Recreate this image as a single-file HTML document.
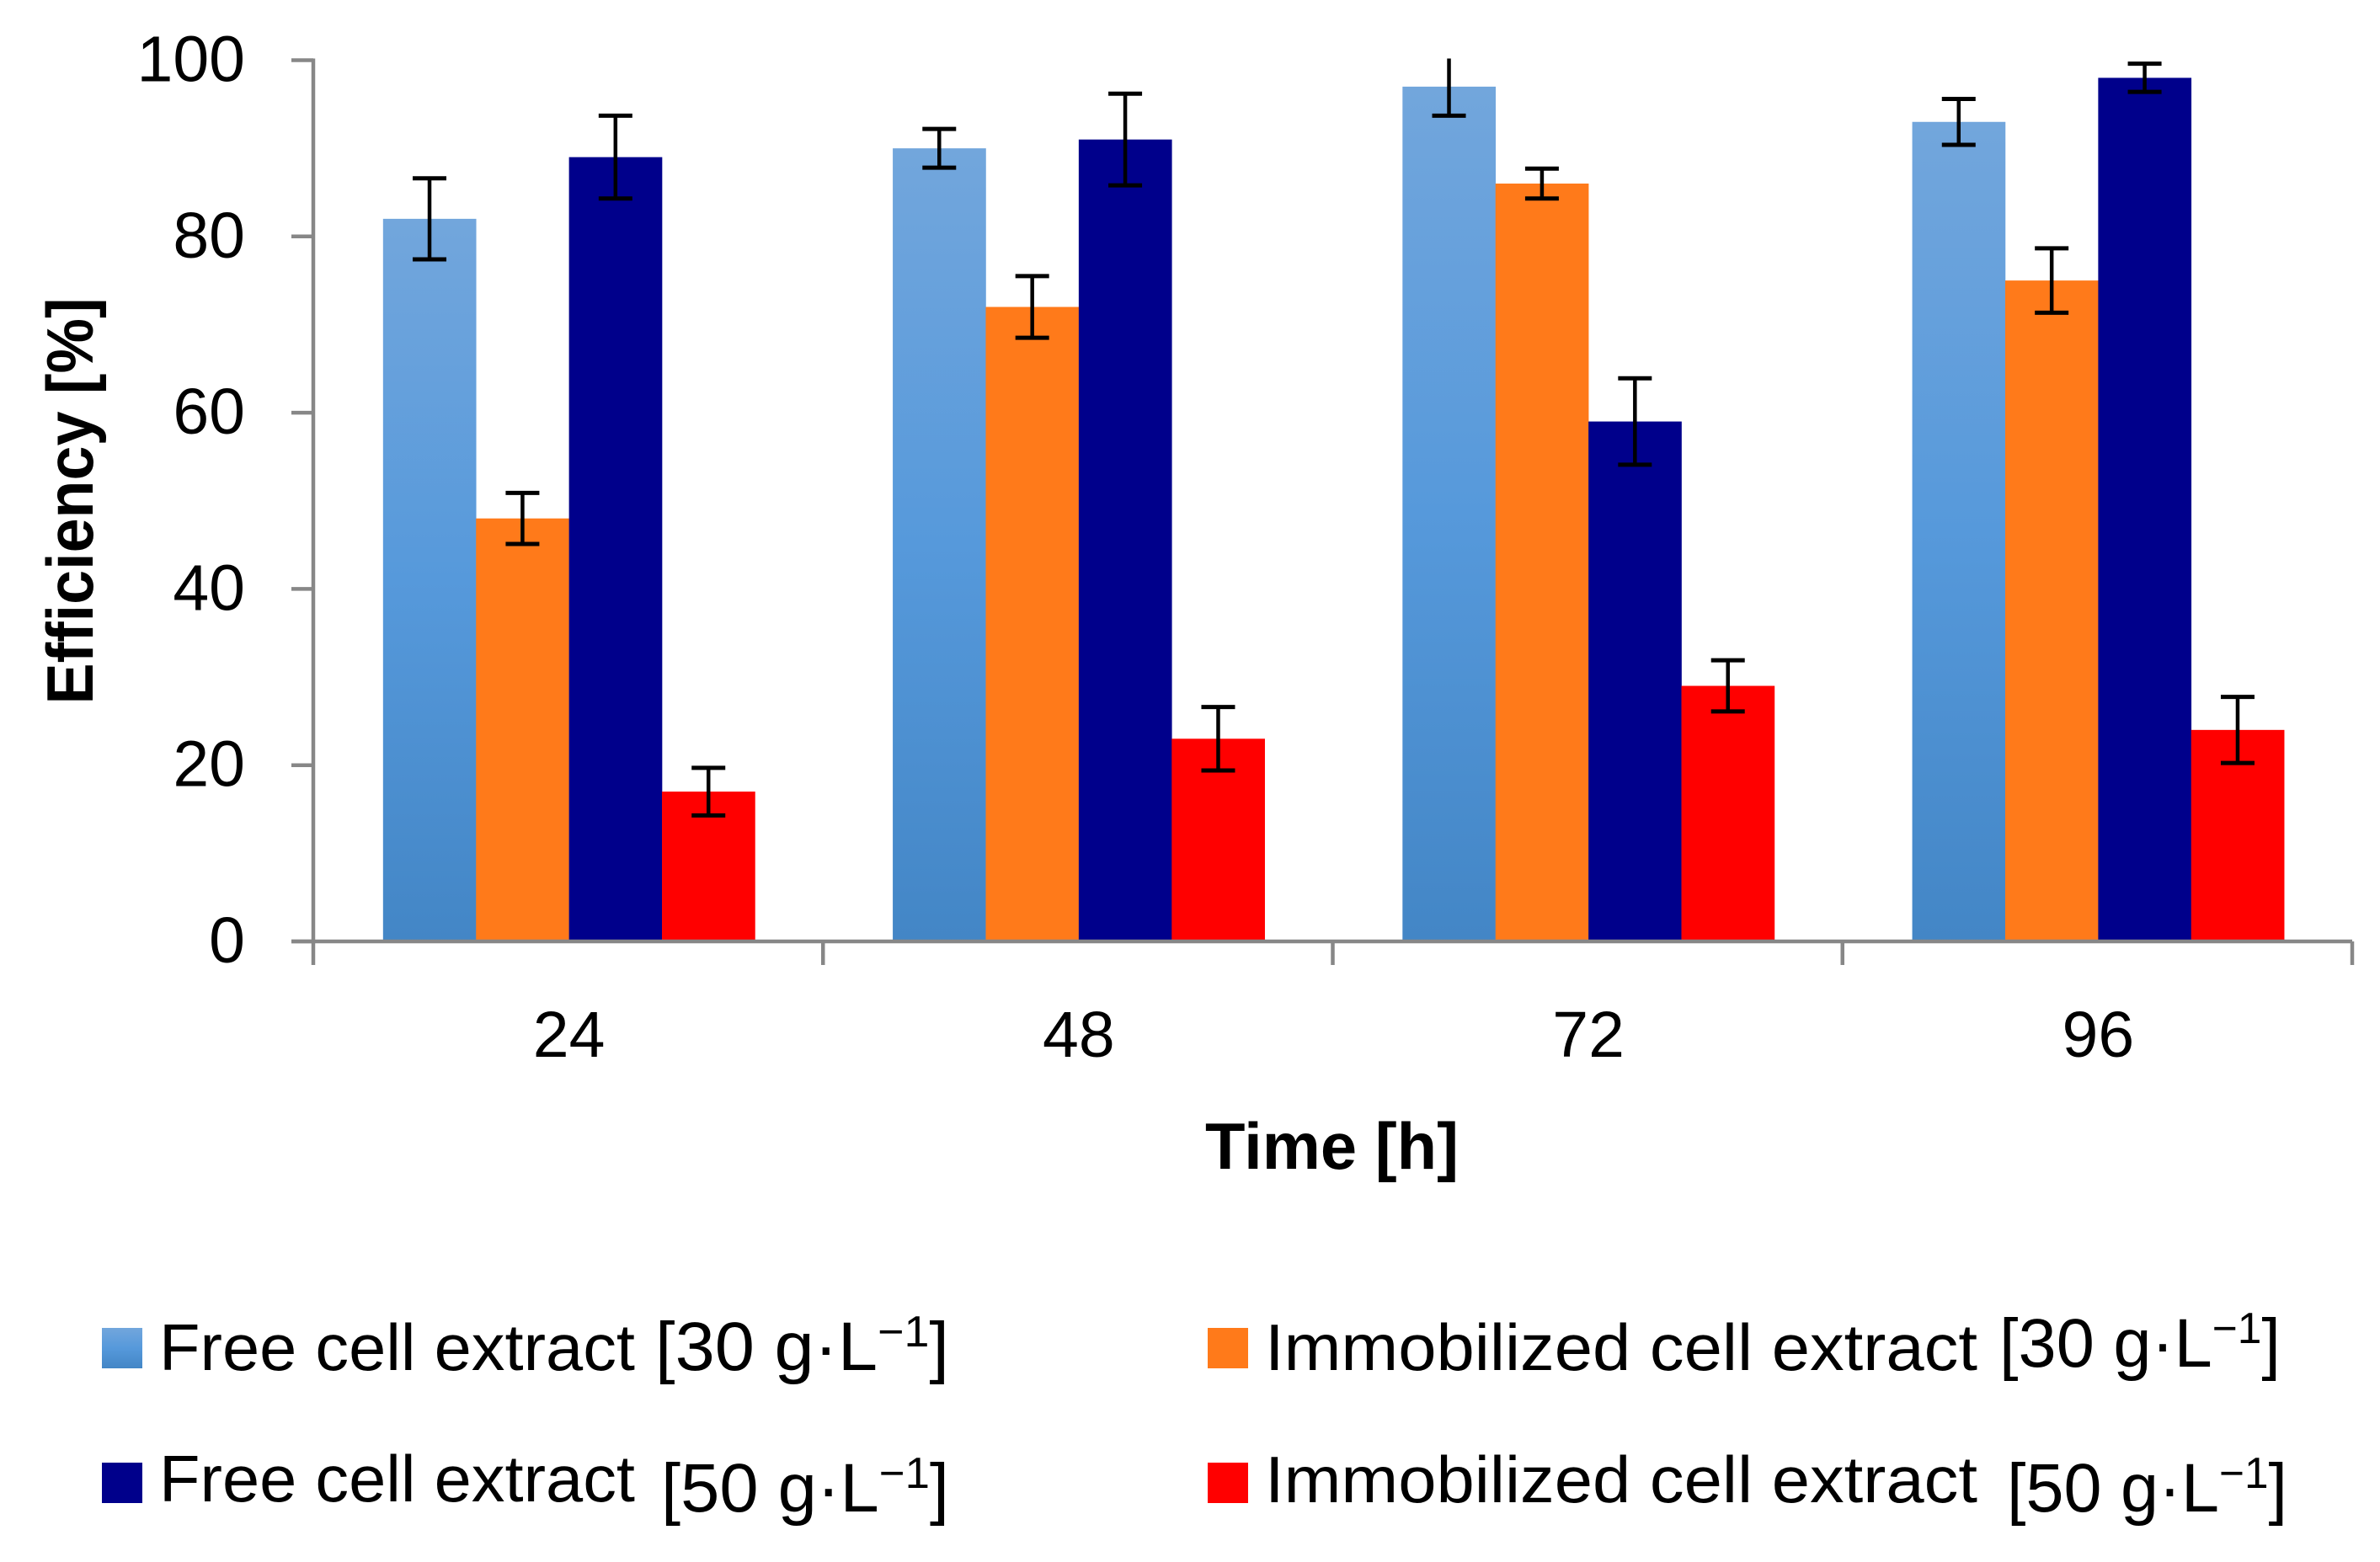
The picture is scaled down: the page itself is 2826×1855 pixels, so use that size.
<!DOCTYPE html>
<html lang="en">
<head>
<meta charset="utf-8">
<title>Efficiency over time</title>
<style>
  html, body { margin: 0; padding: 0; background: #fff; }
  svg { display: block; }
  text { font-family: "Liberation Sans", sans-serif; fill: #000; }
  .tick { font-size: 77px; }
  .title { font-size: 78px; font-weight: bold; }
  .leg { font-size: 78px; }
  .unit { font-size: 82px; }
  .sup { font-size: 52px; }
</style>
</head>
<body>
<svg id="chart" xmlns="http://www.w3.org/2000/svg" width="2826" height="1855" viewBox="0 0 2826 1855">
  <defs>
    <linearGradient id="free30" x1="0" y1="0" x2="0" y2="1">
      <stop offset="0" stop-color="#72a6dc"/>
      <stop offset="0.5" stop-color="#5699db"/>
      <stop offset="1" stop-color="#4386c6"/>
    </linearGradient>
  </defs>
  <rect x="0" y="0" width="2826" height="1855" fill="#ffffff"/>
  <g id="bars"></g>
  <g id="errors"></g>
  <g id="axes"></g>

  <text class="title" transform="translate(110 595) rotate(-90)" text-anchor="middle" textLength="483" lengthAdjust="spacingAndGlyphs">Efficiency [%]</text>
  <text class="title" x="1431" y="1388" textLength="301" lengthAdjust="spacingAndGlyphs">Time [h]</text>

  <g>
    <g>
      <rect x="121" y="1577" width="48" height="48" fill="url(#free30)"/>
      <text class="leg" x="189" y="1627" textLength="565" lengthAdjust="spacingAndGlyphs">Free cell extract</text>
      <text class="unit" x="778" y="1627" textLength="349" lengthAdjust="spacingAndGlyphs">[30 g·L<tspan class="sup" dy="-28">−1</tspan><tspan dy="28">]</tspan></text>
    </g>
    <g>
      <rect x="121" y="1737" width="48" height="48" fill="#00008b"/>
      <text class="leg" x="189" y="1783" textLength="565" lengthAdjust="spacingAndGlyphs">Free cell extract</text>
      <text class="unit" x="785" y="1795" textLength="342" lengthAdjust="spacingAndGlyphs">[50 g·L<tspan class="sup" dy="-28">−1</tspan><tspan dy="28">]</tspan></text>
    </g>
    <g>
      <rect x="1434" y="1577" width="48" height="48" fill="#ff7a1a"/>
      <text class="leg" x="1502" y="1627" textLength="846" lengthAdjust="spacingAndGlyphs">Immobilized cell extract</text>
      <text class="unit" x="2374" y="1623" textLength="334" lengthAdjust="spacingAndGlyphs">[30 g·L<tspan class="sup" dy="-28">−1</tspan><tspan dy="28">]</tspan></text>
    </g>
    <g>
      <rect x="1434" y="1737" width="48" height="48" fill="#ff0000"/>
      <text class="leg" x="1502" y="1784" textLength="846" lengthAdjust="spacingAndGlyphs">Immobilized cell extract</text>
      <text class="unit" x="2383" y="1795" textLength="333" lengthAdjust="spacingAndGlyphs">[50 g·L<tspan class="sup" dy="-28">−1</tspan><tspan dy="28">]</tspan></text>
    </g>
  </g>
</svg>

<script>
const categories = ['24', '48', '72', '96'];
const yTicks = [0, 20, 40, 60, 80, 100];
const free30 = [82, 90, 97, 93];
const immobilized30 = [48, 72, 86, 75];
const free50 = [89, 91, 59, 98];
const immobilized50 = [17, 23, 29, 24];
const free30Err = [4.6, 2.2, 3.3, 2.6];
const immobilized30Err = [2.9, 3.5, 1.7, 3.65];
const free50Err = [4.7, 5.2, 4.9, 1.6];
const immobilized50Err = [2.7, 3.6, 2.9, 3.75];
const seriesKeys = ['free-30', 'immobilized-30', 'free-50', 'immobilized-50'];
const seriesValues = [free30, immobilized30, free50, immobilized50];
const seriesErrors = [free30Err, immobilized30Err, free50Err, immobilized50Err];
const seriesFills = ['url(#free30)', '#ff7a1a', '#00008b', '#ff0000'];

const NS = 'http://www.w3.org/2000/svg';
const plotLeft = 372, plotRight = 2793, plotBottom = 1118, plotTop = 71.5;
const yMax = 100;
const barWidth = 110.4, capHalf = 20;
const axisColor = '#878787';

function yScale(v) { return plotBottom - (v / yMax) * (plotBottom - plotTop); }
function groupStart(i) { return plotLeft + i * (plotRight - plotLeft) / categories.length; }
function groupCenter(i) { return groupStart(i + 0.5) + 1; }
function barLeft(i, s) { return groupCenter(i) + (s - seriesValues.length / 2) * barWidth; }

function make(tag, attrs, parent) {
  const el = document.createElementNS(NS, tag);
  for (const k in attrs) el.setAttribute(k, attrs[k]);
  parent.appendChild(el);
  return el;
}

const barsG = document.getElementById('bars');
const errG = document.getElementById('errors');
const axesG = document.getElementById('axes');

seriesValues.forEach(function (vals, s) {
  vals.forEach(function (v, i) {
    const bar = make('rect', { x: barLeft(i, s), y: yScale(v), width: barWidth + 0.3, height: plotBottom - yScale(v), fill: seriesFills[s] }, barsG);
    
    

    const cx = barLeft(i, s) + barWidth / 2;
    const e = seriesErrors[s][i];
    const hi = v + e, lo = v - e;
    const clipped = hi > yMax;
    const stemTop = clipped ? yScale(yMax) - 2 : yScale(hi);
    const stem = make('line', { x1: cx, x2: cx, y1: stemTop, y2: yScale(lo), stroke: '#000', 'stroke-width': 4.5 }, errG);
    
    
    const capLo = make('line', { x1: cx - capHalf, x2: cx + capHalf, y1: yScale(lo), y2: yScale(lo), stroke: '#000', 'stroke-width': 5 }, errG);
    
    
    if (!clipped) {
      const capHi = make('line', { x1: cx - capHalf, x2: cx + capHalf, y1: yScale(hi), y2: yScale(hi), stroke: '#000', 'stroke-width': 5 }, errG);
      
      
    }
  });
});

const yAxis = make('line', { x1: plotLeft, x2: plotLeft, y1: yScale(yMax) - 2, y2: plotBottom + 28, stroke: axisColor, 'stroke-width': 4.5 }, axesG);


const xAxis = make('line', { x1: 346, x2: plotRight, y1: plotBottom, y2: plotBottom, stroke: axisColor, 'stroke-width': 4.5 }, axesG);



yTicks.forEach(function (t) {
  const tick = make('line', { x1: 346, x2: plotLeft, y1: yScale(t), y2: yScale(t), stroke: axisColor, 'stroke-width': 4.5 }, axesG);
  
  
  const label = make('text', { class: 'tick', x: 291, y: yScale(t) + 25, 'text-anchor': 'end' }, axesG);
  label.textContent = String(t);
  
  
});

categories.forEach(function (c, i) {
  const label = make('text', { class: 'tick', x: groupCenter(i), y: 1255, 'text-anchor': 'middle' }, axesG);
  label.textContent = c;
  
  
});
for (let i = 1; i <= categories.length; i++) {
  const x = groupStart(i);
  const tick = make('line', { x1: x, x2: x, y1: plotBottom, y2: plotBottom + 28, stroke: axisColor, 'stroke-width': 4.5 }, axesG);
  
  
}
</script>
</body>
</html>
